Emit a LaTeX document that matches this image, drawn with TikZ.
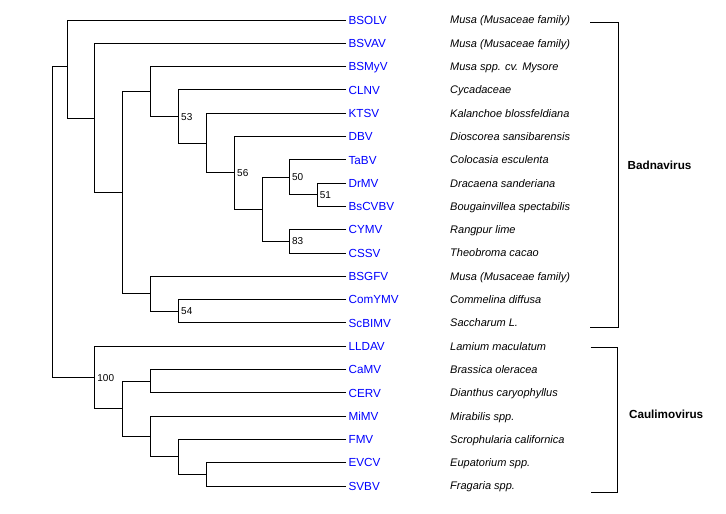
\documentclass[tikz,border=0pt]{standalone}
\usepackage{fontspec}
\setmainfont{Liberation Sans}
\begin{document}
\begin{tikzpicture}[x=1pt,y=-1pt,
  br/.style={line width=1pt, line join=miter},
  vir/.style={anchor=west, text={rgb,255:red,0;green,0;blue,255}, font=\fontsize{11.7}{12}\selectfont, inner xsep=2.4pt, inner ysep=0pt, text height=8.4pt, text depth=0pt},
  host/.style={anchor=west, font=\fontsize{11}{12}\selectfont\itshape, inner sep=0pt, text height=7.9pt, text depth=0pt},
  boot/.style={anchor=west, font=\fontsize{10}{11}\selectfont, inner sep=0pt, text height=7.2pt, text depth=0pt},
  genus/.style={anchor=west, font=\fontsize{11.7}{12}\selectfont\bfseries, inner sep=0pt, text height=8.4pt, text depth=0pt}]
\useasboundingbox[fill=white] (0,0) rectangle (726,514);

% leaves
\node[vir] (BSOLV)  at (346,20.0)  {BSOLV};
\node[vir] (BSVAV)  at (346,43.3)  {BSVAV};
\node[vir] (BSMyV)  at (346,66.6)  {BSMyV};
\node[vir] (CLNV)   at (346,89.9)  {CLNV};
\node[vir] (KTSV)   at (346,113.2) {KTSV};
\node[vir] (DBV)    at (346,136.5) {DBV};
\node[vir] (TaBV)   at (346,159.8) {TaBV};
\node[vir] (DrMV)   at (346,183.1) {DrMV};
\node[vir] (BsCVBV) at (346,206.4) {BsCVBV};
\node[vir] (CYMV)   at (346,229.7) {CYMV};
\node[vir] (CSSV)   at (346,253.0) {CSSV};
\node[vir] (BSGFV)  at (346,276.3) {BSGFV};
\node[vir] (ComYMV) at (346,299.6) {ComYMV};
\node[vir] (ScBIMV) at (346,322.9) {ScBIMV};
\node[vir] (LLDAV)  at (346,346.2) {LLDAV};
\node[vir] (CaMV)   at (346,369.5) {CaMV};
\node[vir] (CERV)   at (346,392.8) {CERV};
\node[vir] (MiMV)   at (346,416.1) {MiMV};
\node[vir] (FMV)    at (346,439.4) {FMV};
\node[vir] (EVCV)   at (346,462.7) {EVCV};
\node[vir] (SVBV)   at (346,486.0) {SVBV};

% hosts
\node[host] (hBSOLV)  at (450,20.0)  {Musa (Musaceae family)};
\node[host] (hBSVAV)  at (450,43.3)  {Musa (Musaceae family)};
\node[host] (hBSMyV)  at (450,66.6)  {Musa spp. cv. Mysore};
\node[host] (hCLNV)   at (450,89.9)  {Cycadaceae};
\node[host] (hKTSV)   at (450,113.2) {Kalanchoe blossfeldiana};
\node[host] (hDBV)    at (450,136.5) {Dioscorea sansibarensis};
\node[host] (hTaBV)   at (450,159.8) {Colocasia esculenta};
\node[host] (hDrMV)   at (450,183.1) {Dracaena sanderiana};
\node[host] (hBsCVBV) at (450,206.4) {Bougainvillea spectabilis};
\node[host] (hCYMV)   at (450,229.7) {Rangpur lime};
\node[host] (hCSSV)   at (450,253.0) {Theobroma cacao};
\node[host] (hBSGFV)  at (450,276.3) {Musa (Musaceae family)};
\node[host] (hComYMV) at (450,299.6) {Commelina diffusa};
\node[host] (hScBIMV) at (450,322.9) {Saccharum L.};
\node[host] (hLLDAV)  at (450,346.2) {Lamium maculatum};
\node[host] (hCaMV)   at (450,369.5) {Brassica oleracea};
\node[host] (hCERV)   at (450,392.8) {Dianthus caryophyllus};
\node[host] (hMiMV)   at (450,416.1) {Mirabilis spp.};
\node[host] (hFMV)    at (450,439.4) {Scrophularia californica};
\node[host] (hEVCV)   at (450,462.7) {Eupatorium spp.};
\node[host] (hSVBV)   at (450,486.0) {Fragaria spp.};

% internal nodes
\coordinate (nDrBs) at (317.3,194.75);
\coordinate (nTa)   at (289.5,177.3);
\coordinate (nCY)   at (289.5,241.35);
\coordinate (n262)  at (262.7,209.3);
\coordinate (n234)  at (234.7,172.9);
\coordinate (n206)  at (206.7,143.05);
\coordinate (n178)  at (178.7,116.5);
\coordinate (n150a) at (150.7,91.55);
\coordinate (nCom)  at (178.7,311.25);
\coordinate (n150b) at (150.7,293.8);
\coordinate (n122)  at (122.7,192.7);
\coordinate (n94)   at (94.7,118.0);
\coordinate (n67)   at (67.7,66.5);
\coordinate (nEV)   at (206.7,474.35);
\coordinate (nFMV)  at (178.7,456.9);
\coordinate (nMi)   at (150.7,436.5);
\coordinate (nCa)   at (150.7,381.15);
\coordinate (n122c) at (122.7,408.8);
\coordinate (n94c)  at (94.7,377.5);
\coordinate (root)  at (52.7,222.0);

% branches
\draw[br] (DrMV.west) -| (nDrBs) |- (BsCVBV.west);
\draw[br] (TaBV.west) -| (nTa) |- (nDrBs);
\draw[br] (CYMV.west) -| (nCY) |- (CSSV.west);
\draw[br] (nTa) -| (n262) |- (nCY);
\draw[br] (DBV.west) -| (n234) |- (n262);
\draw[br] (KTSV.west) -| (n206) |- (n234);
\draw[br] (CLNV.west) -| (n178) |- (n206);
\draw[br] (BSMyV.west) -| (n150a) |- (n178);
\draw[br] (ComYMV.west) -| (nCom) |- (ScBIMV.west);
\draw[br] (BSGFV.west) -| (n150b) |- (nCom);
\draw[br] (n150a) -| (n122) |- (n150b);
\draw[br] (BSVAV.west) -| (n94) |- (n122);
\draw[br] (BSOLV.west) -| (n67) |- (n94);
\draw[br] (EVCV.west) -| (nEV) |- (SVBV.west);
\draw[br] (FMV.west) -| (nFMV) |- (nEV);
\draw[br] (MiMV.west) -| (nMi) |- (nFMV);
\draw[br] (CaMV.west) -| (nCa) |- (CERV.west);
\draw[br] (nCa) -| (n122c) |- (nMi);
\draw[br] (LLDAV.west) -| (n94c) |- (n122c);
\draw[br] (n67) -| (root) |- (n94c);

% bootstrap values
\node[boot] (b53)  at (181,116.5)   {53};
\node[boot] (b56)  at (237,172.9)   {56};
\node[boot] (b50)  at (291.8,177.3) {50};
\node[boot] (b51)  at (319.7,194.75) {51};
\node[boot] (b83)  at (291.8,241.35) {83};
\node[boot] (b54)  at (181,311.25)  {54};
\node[boot] (b100) at (97.2,377.5)  {100};

% genus brackets
\coordinate (bA1) at (590,22.7);
\coordinate (bA2) at (590,327.3);
\draw[br] (bA1) -- ++(28.3,0) |- (bA2);
\node[genus] (Badna) at (627.5,165) {Badnavirus};
\coordinate (bC1) at (590.7,347.7);
\coordinate (bC2) at (590.7,492.3);
\draw[br] (bC1) -- ++(26.6,0) |- (bC2);
\node[genus] (Caul) at (628.9,414.3) {Caulimovirus};
\end{tikzpicture}
\end{document}
